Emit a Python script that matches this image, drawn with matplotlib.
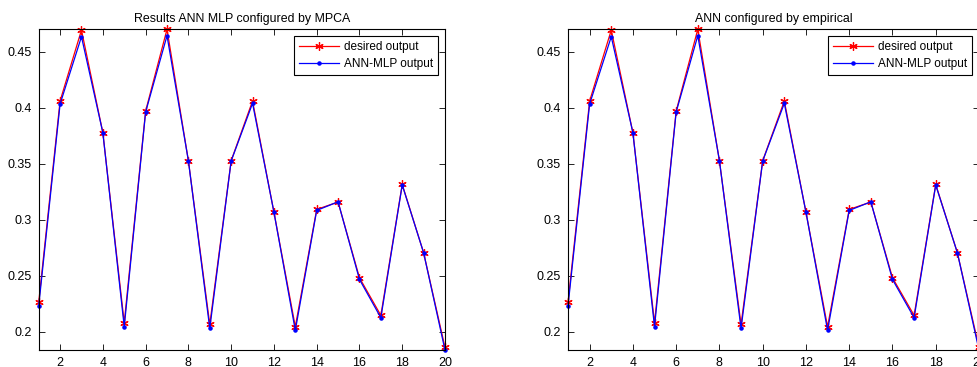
import numpy as np
import matplotlib
matplotlib.use('Agg')
import matplotlib.pyplot as plt

plt.rcParams['font.family'] = ['Liberation Sans', 'DejaVu Sans']

# sample index
idx = list(range(1, 21))
# desired output (target)
desired = [0.2262, 0.4060, 0.4693, 0.3777, 0.2080, 0.3970, 0.4700, 0.3527, 0.2065, 0.3527,
           0.4060, 0.3068, 0.2045, 0.3092, 0.3158, 0.2482, 0.2146, 0.3315, 0.2705, 0.1860]
# network output, MPCA configuration
mpca_out = [0.2229, 0.4033, 0.4634, 0.3777, 0.2045, 0.3961, 0.4643, 0.3527, 0.2030, 0.3524,
            0.4039, 0.3068, 0.2012, 0.3083, 0.3160, 0.2467, 0.2125, 0.3310, 0.2705, 0.1836]
# network output, empirical configuration
emp_out = [0.2229, 0.4033, 0.4634, 0.3777, 0.2045, 0.3961, 0.4643, 0.3527, 0.2030, 0.3524,
           0.4039, 0.3068, 0.2012, 0.3083, 0.3160, 0.2467, 0.2125, 0.3310, 0.2705, 0.1836]
xticks = [2, 4, 6, 8, 10, 12, 14, 16, 18, 20]
yticks = [0.2, 0.25, 0.3, 0.35, 0.4, 0.45]
ytick_labels = ['0.2', '0.25', '0.3', '0.35', '0.4', '0.45']

fig = plt.figure(figsize=(9.77, 3.67), dpi=100)
W, H = 977, 367


def panel(rect, out, title):
    l, t, r, b = rect
    ax = fig.add_axes([l / W, 1 - b / H, (r - l) / W, (b - t) / H])
    # matlab-style asterisk and point markers
    ax.plot(idx, desired, color='red', marker=(6, 2, 0), markersize=6,
            markeredgewidth=0.9, linewidth=0.9, clip_on=False, label='desired output')
    ax.plot(idx, out, color='blue', marker='.', markersize=4.5, linewidth=0.9,
            clip_on=False, label='ANN-MLP output')
    ax.set_xlim(1, 20)
    ax.set_ylim(0.1837, 0.47)
    ax.set_xticks(xticks)
    ax.set_yticks(yticks)
    ax.set_yticklabels(ytick_labels)
    ax.tick_params(direction='in', top=True, right=True, labelsize=9, length=4,
                   width=0.6, pad=5)
    for s in ax.spines.values():
        s.set_linewidth(0.8)
    ax.set_title(title, fontsize=8.9, pad=5)
    leg = ax.legend(loc='upper right', fontsize=8.5, fancybox=False, edgecolor='black',
                    framealpha=1, borderpad=0.4, handlelength=3.4, labelspacing=0.45,
                    handletextpad=0.4, borderaxespad=0.6)
    leg.get_frame().set_linewidth(0.8)
    return ax


panel((38.7, 29.3, 445, 350), mpca_out, 'Results ANN MLP configured by MPCA')
panel((568, 29.3, 979, 350), emp_out, 'ANN configured by empirical')

plt.savefig('out.png', dpi=100)
